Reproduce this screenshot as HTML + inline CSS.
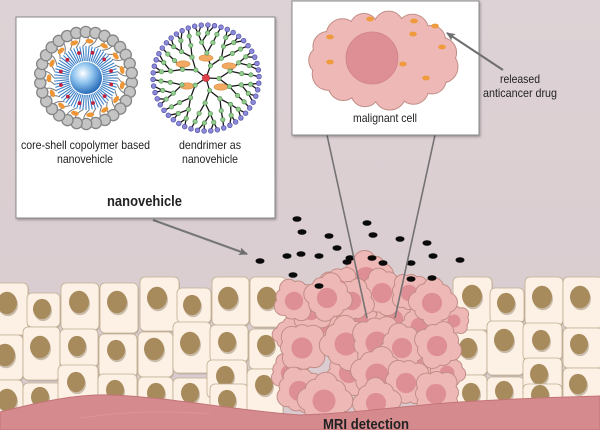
<!DOCTYPE html>
<html><head><meta charset="utf-8">
<style>
html,body{margin:0;padding:0;background:#dccfd3;}
svg{display:block;}
text{font-family:"Liberation Sans",sans-serif;fill:#222;}
</style></head>
<body>
<svg id="s" width="600" height="430" viewBox="0 0 600 430" xmlns="http://www.w3.org/2000/svg">
<defs>
 <radialGradient id="core" cx="0.4" cy="0.35" r="0.7">
  <stop offset="0" stop-color="#ffffff"/><stop offset="0.45" stop-color="#8cc2ee"/><stop offset="1" stop-color="#1a5fb0"/>
 </radialGradient>
 <linearGradient id="bg" x1="0" y1="0" x2="0" y2="1">
  <stop offset="0" stop-color="#ddd2d5"/><stop offset="1" stop-color="#d9cbcf"/>
 </linearGradient>
 <marker id="ah" markerWidth="10" markerHeight="10" refX="8" refY="5" orient="auto" markerUnits="userSpaceOnUse">
  <path d="M0,1 L9,5 L0,9 L2,5 Z" fill="#6e6e6e"/>
 </marker>
 <filter id="sh" x="-5%" y="-5%" width="110%" height="110%"><feDropShadow dx="1" dy="1.5" stdDeviation="1.2" flood-color="#000" flood-opacity="0.3"/></filter>
</defs>
<rect width="600" height="430" fill="url(#bg)"/>
<g id="normal"></g>
<g id="tumor"></g>
<path d="M0,412 C40,402 75,394 110,395 C170,397 230,410 300,415 C360,413 410,405 460,402 C510,399 560,397 600,396 L600,430 L0,430 Z" fill="#d58a8d" stroke="#c47478" stroke-width="1"/>
<path d="M80,418 C120,412 160,410 210,414" fill="none" stroke="#e2a4a6" stroke-width="0.8" opacity="0.6"/>
<g id="dots"></g>

<!-- connector lines -->
<line x1="327" y1="135" x2="367" y2="318" stroke="#737373" stroke-width="1.6"/>
<line x1="435" y1="135" x2="395" y2="318" stroke="#737373" stroke-width="1.6"/>
<line x1="153" y1="220" x2="247" y2="254" stroke="#767676" stroke-width="2" marker-end="url(#ah)"/>

<!-- left box -->
<rect x="16" y="17" width="259" height="201" fill="#ffffff" stroke="#8a8a8a" stroke-width="1" filter="url(#sh)"/>
<g id="coreshell"></g>
<g id="dend"></g>
<text x="21" y="149" font-size="12" textLength="129" lengthAdjust="spacingAndGlyphs">core-shell copolymer based</text>
<text x="57" y="163" font-size="12" textLength="56" lengthAdjust="spacingAndGlyphs">nanovehicle</text>
<text x="179" y="149" font-size="12" textLength="62" lengthAdjust="spacingAndGlyphs">dendrimer as</text>
<text x="182" y="163" font-size="12" textLength="56" lengthAdjust="spacingAndGlyphs">nanovehicle</text>
<text x="107" y="206" font-size="15" font-weight="bold" textLength="75" lengthAdjust="spacingAndGlyphs">nanovehicle</text>

<!-- right box -->
<rect x="292" y="1" width="187" height="134" fill="#ffffff" stroke="#8a8a8a" stroke-width="1" filter="url(#sh)"/>
<g id="mcell"></g>
<text x="353" y="122" font-size="12" textLength="64" lengthAdjust="spacingAndGlyphs">malignant cell</text>

<line x1="503" y1="70" x2="447" y2="33" stroke="#6e6e6e" stroke-width="2" marker-end="url(#ah)"/>
<text x="500" y="83" font-size="12" textLength="40" lengthAdjust="spacingAndGlyphs" fill="#333">released</text>
<text x="483" y="97" font-size="12" textLength="74" lengthAdjust="spacingAndGlyphs" fill="#333">anticancer drug</text>

<text x="323" y="429" font-size="14.5" font-weight="bold" textLength="86" lengthAdjust="spacingAndGlyphs">MRI detection</text>
</svg>

<script>
(function(){
const NS="http://www.w3.org/2000/svg";
function el(p,t,a){const e=document.createElementNS(NS,t);for(const k in a)e.setAttribute(k,a[k]);p.appendChild(e);return e;}
const $=id=>document.getElementById(id);

/* normal cells */
const cells=[
[-5,283,33,52,7,303,10],[27,293,33,34,42,309,9],[61,283,38,47,79,302,10],[100,283,38,50,117,302,10],
[140,277,39,54,157,298,10],[177,288,34,35,192,305,9],[212,277,37,48,228,298,10],[250,277,36,50,267,298,10],
[453,277,39,53,472,296,10],[490,288,34,35,506,303,9],[525,277,38,48,542,297,10],[563,277,40,51,580,297,10],
[-5,335,28,45,5,355,10],[23,327,37,53,40,347,10],[60,329,38,38,77,346,9],[99,334,38,43,116,350,9],
[138,332,35,45,154,349,10],[173,322,38,51,190,343,10],[210,325,38,37,227,342,9],[249,329,38,40,266,345,9],
[453,330,34,45,468,348,9],[487,321,37,54,504,340,10],[523,323,39,37,541,340,9],[563,328,40,40,579,344,9],
[-5,380,28,50,7,400,10],[23,383,39,47,40,397,9],[60,389,38,41,0,0,0],[58,365,40,40,76,382,9],
[98,374,39,56,115,390,9],[138,377,35,53,156,393,9],[173,378,37,52,190,393,9],[207,360,40,38,225,376,9],
[210,384,38,46,227,400,9],[247,369,36,61,264,385,9],
[453,375,34,55,471,393,9],[487,377,37,53,504,391,9],[523,358,39,40,539,374,9],[523,384,39,46,540,395,9],[563,368,40,62,578,384,9]
];
const gN=$('normal');
cells.forEach(c=>{const [x,y,w,h,nx,ny,nr]=c;
 el(gN,'rect',{x:x+1,y:y+1.5,width:w,height:h,rx:5,fill:'#9c8a72',opacity:0.35});
 el(gN,'rect',{x,y,width:w,height:h,rx:5,fill:'#fcf1e4',stroke:'#bfae92','stroke-width':0.8});
 if(nr){el(gN,'ellipse',{cx:nx+1,cy:ny+2,rx:nr,ry:nr*1.12,fill:'#6e5a40',opacity:0.35});
  el(gN,'ellipse',{cx:nx,cy:ny,rx:nr,ry:nr*1.12,fill:'#a88b5d'});}
});

/* tumor cells */
const FILL='#eeb8b7',STR='#c08c85',NUC='#de8f96';
function cloud(g,bumps,body,nuc){
 bumps.forEach(b=>el(g,'circle',{cx:b[0],cy:b[1],r:b[2],fill:FILL,stroke:STR,'stroke-width':1}));
 bumps.forEach(b=>el(g,'circle',{cx:b[0],cy:b[1],r:b[2]-0.6,fill:FILL}));
 if(body)el(g,body[0],body[1]);
 if(nuc)el(g,'circle',nuc);
}
const tum=[
[360,322,22],[395,318,20],[420,325,18],[322,325,18],[350,372,22],[415,362,18],[290,372,18],[448,372,16],[455,320,14],[290,335,16],
[312,310,20],[367,277,24],[340,288,20],[383,292,22],[353,300,20],
[295,300,20],[328,297,22],[410,292,18],[433,302,22],
[303,347,23],[347,343,25],[378,342,25],[403,347,22],[438,345,22],
[300,390,22],[378,374,25],[407,382,22],[325,400,25],[437,393,22],[377,402,22]
];
const gT=$('tumor');
tum.forEach(([cx,cy,R],k)=>{
 const g=el(gT,'g',{});
 const n=8,br=R*0.44,rr=R*0.62,off=k*0.7;
 const b=[];for(let i=0;i<n;i++){const a=off+i*2*Math.PI/n;const j=(i%2)?0.92:1.05;b.push([cx+rr*j*Math.cos(a),cy+rr*j*Math.sin(a),br*j]);}
 cloud(g,b,['circle',{cx,cy,r:rr,fill:FILL}],{cx:cx-1,cy:cy+1,r:R*0.46,fill:NUC});
});

/* drug dots */
const dots=[[297,219],[302,232],[329,236],[337,248],[367,223],[373,235],[400,239],[427,243],[433,256],[460,260],
[260,261],[287,256],[301,254],[319,256],[350,258],[347,262],[372,258],[383,263],[411,263],[293,275],[319,286],[411,279],[432,278]];
const gD=$('dots');
dots.forEach(d=>el(gD,'ellipse',{cx:d[0],cy:d[1],rx:4.5,ry:2.8,fill:'#0a0a0a'}));

/* malignant cell in box */
const gM=$('mcell');
const mb=[];
for(let i=0;i<15;i++){const a=i*2*Math.PI/15+0.2;const j=(i%3==0)?1.08:(i%3==1?0.95:1.0);
 mb.push([383+60*Math.cos(a),60+34*Math.sin(a),15*j]);}
cloud(gM,mb,['ellipse',{cx:383,cy:60,rx:61,ry:35,fill:FILL}],null);
el(gM,'circle',{cx:372,cy:58,r:26,fill:'#dd8f95',stroke:'#cf8389','stroke-width':0.8});
[[370,19],[414,21],[435,26],[413,34],[330,37],[442,47],[330,62],[403,64],[426,78]].forEach(p=>
 el(gM,'ellipse',{cx:p[0],cy:p[1],rx:3.8,ry:2.4,fill:'#ef9a3c'}));

/* core-shell particle */
const gC=$('coreshell'),ccx=86,ccy=78;
for(let i=0;i<30;i++){const a=i*2*Math.PI/30;
 const p1=[ccx+32*Math.cos(a),ccy+32*Math.sin(a)],p2=[ccx+43*Math.cos(a+0.15),ccy+43*Math.sin(a+0.15)],
 c=[ccx+38*Math.cos(a+0.2),ccy+38*Math.sin(a+0.2)];
 el(gC,'path',{d:`M${p1[0]},${p1[1]} Q${c[0]},${c[1]} ${p2[0]},${p2[1]}`,fill:'none',stroke:'#7a7a7a','stroke-width':1});}
for(let i=0;i<30;i++){const a=i*2*Math.PI/30+0.1;
 el(gC,'circle',{cx:ccx+46*Math.cos(a),cy:ccy+46*Math.sin(a),r:5.6,fill:'#c4c4c4',stroke:'#858585','stroke-width':1.3});}
for(let i=0;i<15;i++){const a=i*2*Math.PI/15+0.2;const x=ccx+37*Math.cos(a),y=ccy+37*Math.sin(a);
 el(gC,'ellipse',{cx:x,cy:y,rx:4,ry:2.3,fill:'#ee9636',transform:`rotate(${a*180/Math.PI+90} ${x} ${y})`});}
for(let i=0;i<64;i++){const a=i*2*Math.PI/64;
 el(gC,'line',{x1:ccx+17*Math.cos(a),y1:ccy+17*Math.sin(a),x2:ccx+32*Math.cos(a),y2:ccy+32*Math.sin(a),stroke:'#3d80c6','stroke-width':1.1});}
for(let i=0;i<12;i++){const a=i*2*Math.PI/12+0.25;
 el(gC,'circle',{cx:ccx+26*Math.cos(a),cy:ccy+26*Math.sin(a),r:1.9,fill:'#c2203d'});}
el(gC,'circle',{cx:ccx,cy:ccy,r:16,fill:'url(#core)'});

/* dendrimer */
const gDn=$('dend'),dcx=206,dcy=78;
const radii=[13,25,36,45,53],counts=[1,2,4,6,10];
const lines=[],nodes=[];
for(let s=0;s<5;s++){
 const a0=-Math.PI/2+s*2*Math.PI/5+0.35,sp=2*Math.PI/5;
 let prev=[[dcx,dcy]];
 for(let L=0;L<radii.length;L++){
  const n=counts[L],cur=[];
  for(let i=0;i<n;i++){
   const a=a0-sp/2+(i+0.5)*sp/n;
   const p=[dcx+radii[L]*Math.cos(a),dcy+radii[L]*Math.sin(a)];
   const par=prev[Math.min(prev.length-1,Math.floor(i*prev.length/n))];
   lines.push([par[0],par[1],p[0],p[1]]);cur.push(p);nodes.push([p[0],p[1],L==radii.length-1]);
  }
  prev=cur;
 }
}
lines.forEach(l=>el(gDn,'line',{x1:l[0],y1:l[1],x2:l[2],y2:l[3],stroke:'#1a1a1a','stroke-width':1.3}));
[[206,58],[229,66],[183,64],[187,86],[221,87]].forEach(p=>
 el(gDn,'ellipse',{cx:p[0],cy:p[1],rx:7,ry:3.2,fill:'#f2aa62',stroke:'#d98a40','stroke-width':0.6}));
nodes.forEach(n=>{ if(n[2]) el(gDn,'circle',{cx:n[0],cy:n[1],r:2.4,fill:'#8c8ad8',stroke:'#4a48a0','stroke-width':0.6});
 else el(gDn,'circle',{cx:n[0],cy:n[1],r:2.2,fill:'#93cc8e',stroke:'#4c8c4c','stroke-width':0.6});});
el(gDn,'circle',{cx:dcx,cy:dcy,r:3.6,fill:'#e0404a',stroke:'#a02030','stroke-width':0.6});
})();
</script>
</body></html>
